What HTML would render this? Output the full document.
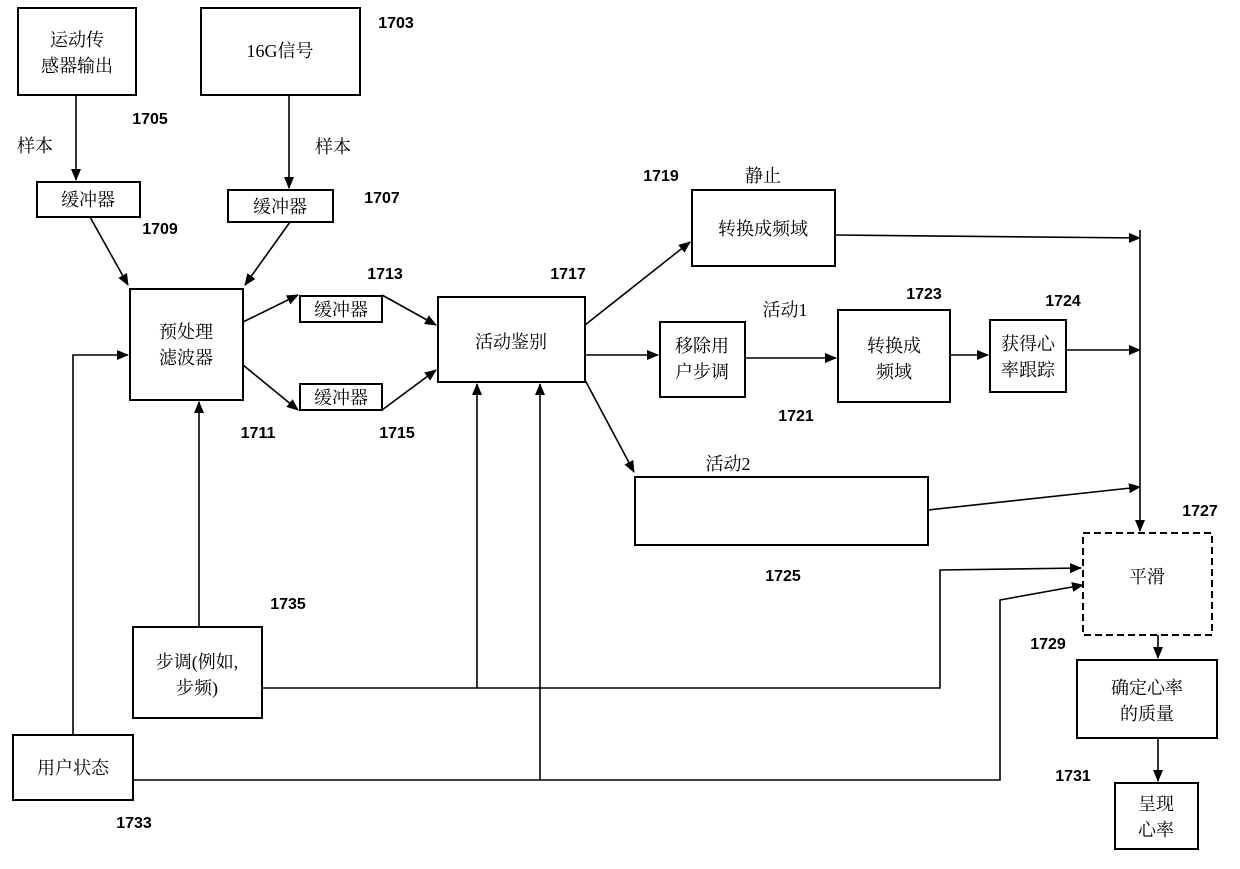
<!DOCTYPE html>
<html><head><meta charset="utf-8"><style>
html,body{margin:0;padding:0;background:#fff}
svg text{font-family:"Liberation Serif","Noto Serif CJK SC",serif;font-size:18px;fill:#000}
svg text.n{font-family:"Liberation Sans",sans-serif;font-weight:bold;font-size:16px}
</style></head><body>
<svg width="1240" height="864" viewBox="0 0 1240 864" xmlns="http://www.w3.org/2000/svg">
<defs><marker id="a" markerWidth="12" markerHeight="10" refX="11" refY="5" orient="auto" markerUnits="userSpaceOnUse"><path d="M0,0 L12,5 L0,10 z" fill="#000"/></marker></defs>
<g fill="none" stroke="#000" stroke-width="2">
<rect x="18" y="8" width="118" height="87"/>
<rect x="201" y="8" width="159" height="87"/>
<rect x="37" y="182" width="103" height="35"/>
<rect x="228" y="190" width="105" height="32"/>
<rect x="130" y="289" width="113" height="111"/>
<rect x="300" y="296" width="82" height="26"/>
<rect x="300" y="384" width="82" height="26"/>
<rect x="438" y="297" width="147" height="85"/>
<rect x="692" y="190" width="143" height="76"/>
<rect x="660" y="322" width="85" height="75"/>
<rect x="838" y="310" width="112" height="92"/>
<rect x="990" y="320" width="76" height="72"/>
<rect x="635" y="477" width="293" height="68"/>
<rect x="1083" y="533" width="129" height="102" stroke-dasharray="7,4"/>
<rect x="1077" y="660" width="140" height="78"/>
<rect x="1115" y="783" width="83" height="66"/>
<rect x="133" y="627" width="129" height="91"/>
<rect x="13" y="735" width="120" height="65"/>
</g>
<g fill="none" stroke="#000" stroke-width="1.6" marker-end="url(#a)">
<line x1="76" y1="95" x2="76" y2="180"/>
<line x1="289" y1="95" x2="289" y2="188"/>
<line x1="90" y1="217" x2="128" y2="285"/>
<line x1="290" y1="222" x2="245" y2="285"/>
<line x1="243" y1="322" x2="298" y2="295"/>
<line x1="243" y1="365" x2="298" y2="410"/>
<line x1="382" y1="295" x2="436" y2="325"/>
<line x1="382" y1="410" x2="436" y2="370"/>
<line x1="585" y1="325" x2="690" y2="242"/>
<line x1="585" y1="355" x2="658" y2="355"/>
<line x1="745" y1="358" x2="836" y2="358"/>
<line x1="950" y1="355" x2="988" y2="355"/>
<line x1="1066" y1="350" x2="1140" y2="350"/>
<line x1="835" y1="235" x2="1140" y2="238"/>
<line x1="585" y1="380" x2="634" y2="472"/>
<line x1="928" y1="510" x2="1140" y2="487"/>
<line x1="1140" y1="230" x2="1140" y2="531"/>
<line x1="1158" y1="635" x2="1158" y2="658"/>
<line x1="1158" y1="738" x2="1158" y2="781"/>
<line x1="199" y1="627" x2="199" y2="402"/>
<polyline points="262,688 940,688 940,570 1081,568"/>
<line x1="477" y1="688" x2="477" y2="384"/>
<polyline points="73,735 73,355 128,355"/>
<polyline points="133,780 1000,780 1000,600 1083,585"/>
<line x1="540" y1="780" x2="540" y2="384"/>
</g>
<g text-anchor="middle">
<text x="77" y="46">运动传</text><text x="77" y="72">感器输出</text>
<text x="280" y="57">16G信号</text>
<text x="88" y="206">缓冲器</text>
<text x="280" y="213">缓冲器</text>
<text x="186" y="338">预处理</text><text x="186" y="364">滤波器</text>
<text x="341" y="316">缓冲器</text>
<text x="341" y="404">缓冲器</text>
<text x="511" y="348">活动鉴别</text>
<text x="763" y="235">转换成频域</text>
<text x="702" y="352">移除用</text><text x="702" y="378">户步调</text>
<text x="894" y="352">转换成</text><text x="894" y="378">频域</text>
<text x="1028" y="350">获得心</text><text x="1028" y="376">率跟踪</text>
<text x="1147" y="583">平滑</text>
<text x="1147" y="694">确定心率</text><text x="1147" y="720">的质量</text>
<text x="1156" y="810">呈现</text><text x="1156" y="836">心率</text>
<text x="197" y="668">步调(例如,</text><text x="197" y="694">步频)</text>
<text x="73" y="774">用户状态</text>
<text x="35" y="152">样本</text>
<text x="333" y="153">样本</text>
<text x="763" y="182">静止</text>
<text x="785" y="316">活动1</text>
<text x="728" y="470">活动2</text>
<text class="n" x="396" y="28">1703</text>
<text class="n" x="150" y="124">1705</text>
<text class="n" x="382" y="203">1707</text>
<text class="n" x="160" y="234">1709</text>
<text class="n" x="258" y="438">1711</text>
<text class="n" x="385" y="279">1713</text>
<text class="n" x="397" y="438">1715</text>
<text class="n" x="568" y="279">1717</text>
<text class="n" x="661" y="181">1719</text>
<text class="n" x="796" y="421">1721</text>
<text class="n" x="924" y="299">1723</text>
<text class="n" x="1063" y="306">1724</text>
<text class="n" x="783" y="581">1725</text>
<text class="n" x="1200" y="516">1727</text>
<text class="n" x="1048" y="649">1729</text>
<text class="n" x="1073" y="781">1731</text>
<text class="n" x="134" y="828">1733</text>
<text class="n" x="288" y="609">1735</text>
</g>
</svg>
</body></html>
